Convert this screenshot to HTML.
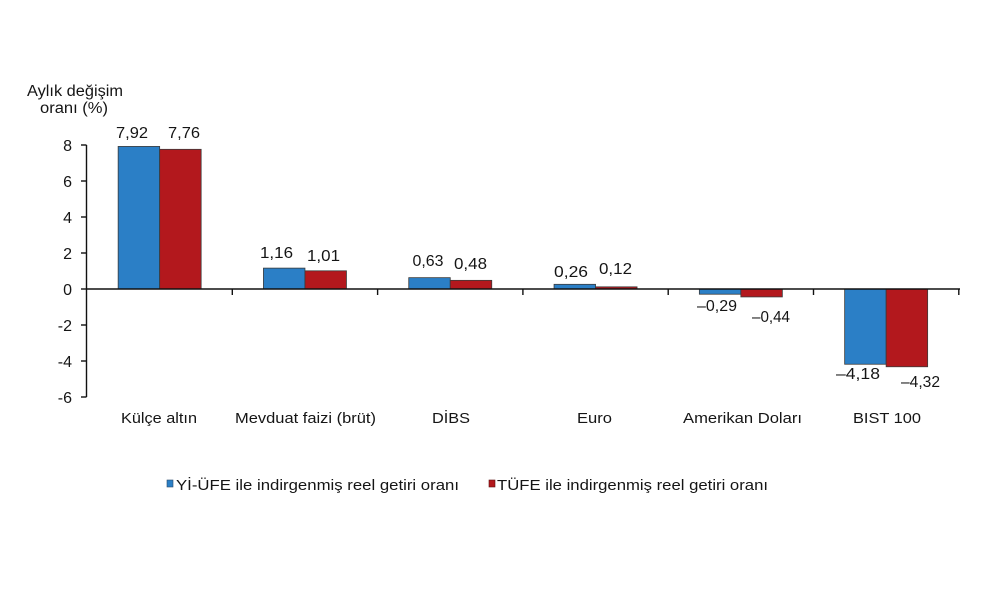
<!DOCTYPE html>
<html>
<head>
<meta charset="utf-8">
<style>
  html, body { margin: 0; padding: 0; background: #ffffff; }
  svg { display: block; }
  text { font-family: "Liberation Sans", Arial, sans-serif; fill: #151515; }
</style>
</head>
<body>
<svg width="1000" height="593" viewBox="0 0 1000 593" xmlns="http://www.w3.org/2000/svg">
  <rect x="0" y="0" width="1000" height="593" fill="#ffffff"/>

  <!-- Y axis title -->
  <text x="27" y="96" font-size="15.5" textLength="96" lengthAdjust="spacingAndGlyphs">Aylık değişim</text>
  <text x="40" y="113" font-size="15.5" textLength="68" lengthAdjust="spacingAndGlyphs">oranı (%)</text>

  <!-- Bars -->
  <g stroke="#3a3a3a" stroke-width="0.8">
    <rect x="118.15" y="146.44" width="41.5" height="142.56" fill="#2b7fc6"/>
    <rect x="159.65" y="149.32" width="41.5" height="139.68" fill="#b3181d"/>
    <rect x="263.45" y="268.12" width="41.5" height="20.88" fill="#2b7fc6"/>
    <rect x="304.95" y="270.82" width="41.5" height="18.18" fill="#b3181d"/>
    <rect x="408.75" y="277.66" width="41.5" height="11.34" fill="#2b7fc6"/>
    <rect x="450.25" y="280.36" width="41.5" height="8.64" fill="#b3181d"/>
    <rect x="554.05" y="284.32" width="41.5" height="4.68" fill="#2b7fc6"/>
    <rect x="595.55" y="286.84" width="41.5" height="2.16" fill="#b3181d"/>
    <rect x="699.35" y="289" width="41.5" height="5.22" fill="#2b7fc6"/>
    <rect x="740.85" y="289" width="41.5" height="7.92" fill="#b3181d"/>
    <rect x="844.65" y="289" width="41.5" height="75.24" fill="#2b7fc6"/>
    <rect x="886.15" y="289" width="41.5" height="77.76" fill="#b3181d"/>
  </g>

  <!-- Axes -->
  <g stroke="#111" stroke-width="1.4" fill="none">
    <line x1="86.5" y1="145" x2="86.5" y2="397"/>
    <line x1="86.5" y1="289" x2="960" y2="289"/>
    <line x1="81" y1="145" x2="86.5" y2="145"/>
    <line x1="81" y1="181" x2="86.5" y2="181"/>
    <line x1="81" y1="217" x2="86.5" y2="217"/>
    <line x1="81" y1="253" x2="86.5" y2="253"/>
    <line x1="81" y1="289" x2="86.5" y2="289"/>
    <line x1="81" y1="325" x2="86.5" y2="325"/>
    <line x1="81" y1="361" x2="86.5" y2="361"/>
    <line x1="81" y1="397" x2="86.5" y2="397"/>
    <line x1="232.3" y1="289" x2="232.3" y2="295"/>
    <line x1="377.6" y1="289" x2="377.6" y2="295"/>
    <line x1="522.9" y1="289" x2="522.9" y2="295"/>
    <line x1="668.2" y1="289" x2="668.2" y2="295"/>
    <line x1="813.5" y1="289" x2="813.5" y2="295"/>
    <line x1="958.8" y1="289" x2="958.8" y2="295"/>
  </g>

  <!-- Y tick labels -->
  <g font-size="16" text-anchor="end">
    <text x="72" y="151">8</text>
    <text x="72" y="187">6</text>
    <text x="72" y="223">4</text>
    <text x="72" y="259">2</text>
    <text x="72" y="295">0</text>
    <text x="72" y="331">-2</text>
    <text x="72" y="367">-4</text>
    <text x="72" y="403">-6</text>
  </g>

  <!-- Value labels -->
  <g font-size="15.5">
    <text x="116" y="138" textLength="32" lengthAdjust="spacingAndGlyphs">7,92</text>
    <text x="168" y="138" textLength="32" lengthAdjust="spacingAndGlyphs">7,76</text>
    <text x="260" y="258" textLength="33" lengthAdjust="spacingAndGlyphs">1,16</text>
    <text x="307" y="261" textLength="33" lengthAdjust="spacingAndGlyphs">1,01</text>
    <text x="412.5" y="266" textLength="31" lengthAdjust="spacingAndGlyphs">0,63</text>
    <text x="454" y="269" textLength="33" lengthAdjust="spacingAndGlyphs">0,48</text>
    <text x="554" y="277" textLength="34" lengthAdjust="spacingAndGlyphs">0,26</text>
    <text x="599" y="274" textLength="33" lengthAdjust="spacingAndGlyphs">0,12</text>
    <text x="697" y="311" textLength="40" lengthAdjust="spacingAndGlyphs">–0,29</text>
    <text x="752" y="322" textLength="38" lengthAdjust="spacingAndGlyphs">–0,44</text>
    <text x="836" y="379" textLength="44" lengthAdjust="spacingAndGlyphs">–4,18</text>
    <text x="901" y="387" textLength="39" lengthAdjust="spacingAndGlyphs">–4,32</text>
  </g>

  <!-- Category labels -->
  <g font-size="15">
    <text x="121" y="423" textLength="76" lengthAdjust="spacingAndGlyphs">Külçe altın</text>
    <text x="235" y="423" textLength="141" lengthAdjust="spacingAndGlyphs">Mevduat faizi (brüt)</text>
    <text x="432" y="423" textLength="38" lengthAdjust="spacingAndGlyphs">DİBS</text>
    <text x="577" y="423" textLength="35" lengthAdjust="spacingAndGlyphs">Euro</text>
    <text x="683" y="423" textLength="119" lengthAdjust="spacingAndGlyphs">Amerikan Doları</text>
    <text x="853" y="423" textLength="68" lengthAdjust="spacingAndGlyphs">BIST 100</text>
  </g>

  <!-- Legend -->
  <rect x="167" y="480" width="6" height="7" fill="#2b7fc6" stroke="#2a4a6a" stroke-width="0.6"/>
  <text x="176" y="490" font-size="15" textLength="283" lengthAdjust="spacingAndGlyphs">Yİ-ÜFE ile indirgenmiş reel getiri oranı</text>
  <rect x="489" y="480" width="6" height="7" fill="#b3181d" stroke="#5a1010" stroke-width="0.6"/>
  <text x="497" y="490" font-size="15" textLength="271" lengthAdjust="spacingAndGlyphs">TÜFE ile indirgenmiş reel getiri oranı</text>
</svg>
</body>
</html>
